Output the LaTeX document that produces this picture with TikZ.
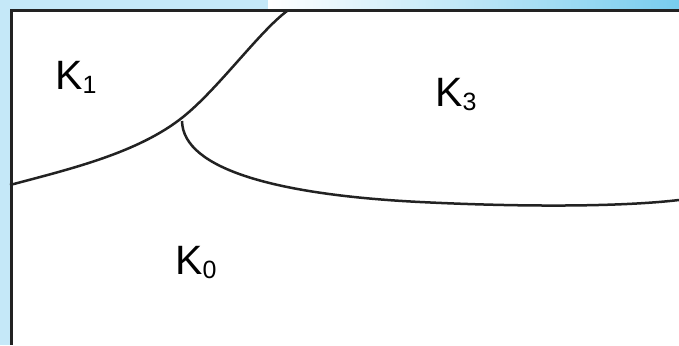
\documentclass[tikz,border=0pt]{standalone}
\usepackage{fontspec}
\setmainfont{Liberation Sans}
\definecolor{lightbg}{HTML}{C5E8F8}
\definecolor{deepbg}{HTML}{78CCEE}
\definecolor{edge}{HTML}{222222}
\begin{document}
\begin{tikzpicture}[x=1pt,y=-1pt,
  region/.style={anchor=base west,inner sep=0pt,font=\fontsize{41}{41}\selectfont},
  boundary/.style={line width=2.5pt,draw=edge},
  frame/.style={line width=3pt,draw=edge}]
\useasboundingbox (0,0) rectangle (679,345);
\fill[lightbg] (0,0) rectangle (679,345);
\shade[left color=white,right color=deepbg] (268,0) rectangle (679,10);
\fill[white] (10,10) rectangle (679,345);
\draw[frame] (679,11) -- (11,11) -- (11,345);
\draw[boundary] (10,185) .. controls (70,169) and (138,153) .. (183,117)
  .. controls (218,89) and (259,32) .. (287,11);
\draw[boundary] (182,121) .. controls (183,170) and (280,195) .. (420,202)
  .. controls (520,207) and (620,207) .. (679,200);
\newcommand{\sbs}[1]{{\fontsize{25}{25}\selectfont\raisebox{-4pt}{#1}}}
\node[region] (k1) at (55,89) {K\sbs{1}};
\node[region] (k3) at (435,106) {K\sbs{3}};
\node[region] (k0) at (175,274) {K\sbs{0}};
\end{tikzpicture}
\end{document}
